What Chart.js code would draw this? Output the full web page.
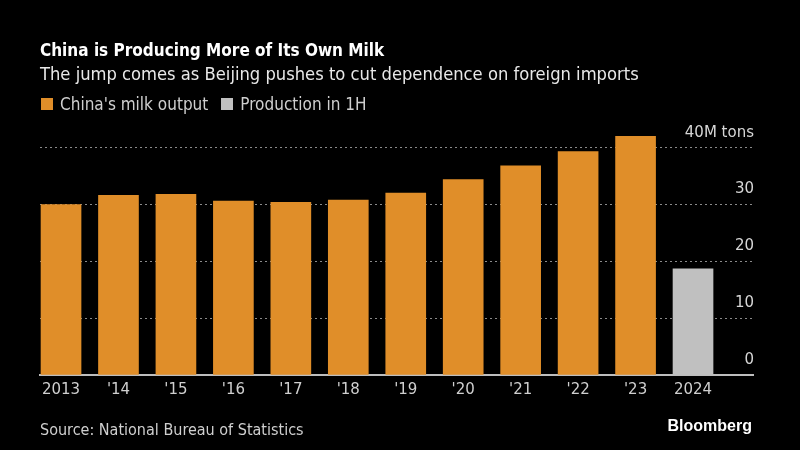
<!DOCTYPE html>
<html>
<head>
<meta charset="utf-8">
<script src="https://cdn.jsdelivr.net/npm/chart.js@4.4.1/dist/chart.umd.min.js"></script>
<style>
  html, body { margin: 0; padding: 0; background: #000; }
  #wrap { position: relative; width: 800px; height: 450px; overflow: hidden; background: #000; font-family: "DejaVu Sans Condensed", "DejaVu Sans", sans-serif; font-stretch: condensed; }
  #chart { position: absolute; left: 0; top: 0; }
  .title { position: absolute; left: 40px; top: 40px; color: #fff; font-size: 17px; font-weight: bold; white-space: nowrap; }
  .subtitle { position: absolute; left: 40px; top: 63px; color: #e8e8e8; font-size: 18.2px; white-space: nowrap; }
  #legend { position: absolute; left: 41px; top: 94px; display: flex; color: #cfcfcf; font-size: 17px; white-space: nowrap; }
  .legendItem { display: flex; align-items: center; margin-right: 13px; }
  .legendItem span.sw { display: inline-block; width: 12px; height: 12px; margin-right: 7px; }
  .source { position: absolute; left: 40px; top: 420px; color: #cfcfcf; font-size: 16px; white-space: nowrap; }
  .brand { position: absolute; right: 48px; top: 417px; color: #fff; font-size: 16px; font-weight: bold; font-family: "Liberation Sans", sans-serif; font-stretch: normal; }
</style>
</head>
<body>
<div id="wrap">
  <canvas id="chart" width="800" height="450"></canvas>
  <div class="title">China is Producing More of Its Own Milk</div>
  <div class="subtitle">The jump comes as Beijing pushes to cut dependence on foreign imports</div>
  <div id="legend"></div>
  <div class="source">Source: National Bureau of Statistics</div>
  <div class="brand">Bloomberg</div>
</div>
<script>
// data (million tons)
var years = ['2013', "'14", "'15", "'16", "'17", "'18", "'19", "'20", "'21", "'22", "'23", '2024'];
var milkOutput = [30.0, 31.6, 31.8, 30.6, 30.4, 30.8, 32.0, 34.4, 36.8, 39.3, 42.0, null];
var firstHalf = [null, null, null, null, null, null, null, null, null, null, null, 18.7];
var yTicks = [0, 10, 20, 30, 40];

var seriesNames = ["China's milk output", 'Production in 1H'];
var seriesColors = ['#e08e29', '#c0c0c0'];

const toPoints = (arr) => arr.map((v, i) => ({ x: i, y: v })).filter(p => p.y !== null);

// legend, the same way as the bars
document.getElementById('legend').innerHTML = seriesNames.map((n, i) =>
    `<div class="legendItem"><span class="sw" style="background-color:${seriesColors[i]};"></span><span>${n}</span></div>`
).join('');

var milkConfig = {
    type: 'bar',
    data: {
        datasets: [{
            label: seriesNames[0],
            data: toPoints(milkOutput),
            backgroundColor: seriesColors[0],
            barThickness: 40,
            grouped: false,
        }, {
            label: seriesNames[1],
            data: toPoints(firstHalf),
            backgroundColor: seriesColors[1],
            barThickness: 40,
            grouped: false,
        }],
    },
    options: {
        responsive: false,
        animation: false,
        layout: { padding: { left: 40, right: 47, top: 125, bottom: 45 } },
        plugins: {
            legend: { display: false },
            tooltip: { enabled: false },
        },
        scales: {
            x: {
                type: 'linear',
                offset: false,
                min: -0.366,
                max: 12.044,
                afterBuildTicks: (scale) => { scale.ticks = years.map((_, i) => ({ value: i })); },
                afterFit: (scale) => { scale.height = 30; },
                grid: { display: false, drawTicks: false },
                border: { display: true, color: '#bdbdbd', width: 2 },
                ticks: {
                    color: '#cfcfcf',
                    font: { family: 'DejaVu Sans', size: 15 },
                    padding: 6,
                    autoSkip: false,
                    maxRotation: 0,
                    callback: (v) => years[v],
                },
            },
            y: {
                position: 'right',
                min: 0,
                max: 44,
                afterBuildTicks: (scale) => { scale.ticks = yTicks.map(v => ({ value: v })); },
                afterFit: (scale) => { scale.width = 0; },
                grid: {
                    drawTicks: false,
                    color: (ctx) => ctx.tick && ctx.tick.value === 0 ? 'rgba(0,0,0,0)' : '#8a8a8a',
                    lineWidth: 1,
                },
                border: { display: false, dash: [2, 3] },
                ticks: {
                    mirror: true,
                    padding: 1,
                    labelOffset: -15,
                    color: '#d6d6d6',
                    font: { family: 'DejaVu Sans', size: 15 },
                    callback: (v) => v === 40 ? '40M tons' : v,
                },
            },
        },
    },
};

var ctx = document.getElementById('chart');
window.milkChart = new Chart(ctx, milkConfig);
</script>
</body>
</html>
